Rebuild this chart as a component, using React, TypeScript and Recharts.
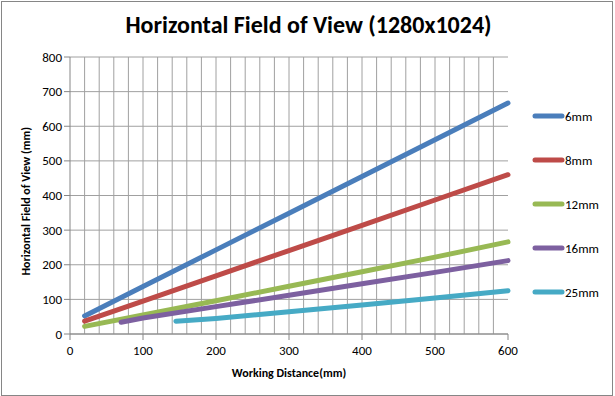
import { CartesianGrid, Line, LineChart, ReferenceLine, XAxis, YAxis } from "recharts"

// working distance (mm) -> horizontal field of view (mm)
const lens6mm = [
    { x: 20, fov: 52 },
    { x: 100, fov: 137 },
    { x: 200, fov: 243 },
    { x: 300, fov: 349 },
    { x: 400, fov: 455 },
    { x: 500, fov: 561 },
    { x: 600, fov: 667 },
]
const lens8mm = [
    { x: 20, fov: 37 },
    { x: 100, fov: 95 },
    { x: 200, fov: 168 },
    { x: 300, fov: 241 },
    { x: 400, fov: 314 },
    { x: 500, fov: 387 },
    { x: 600, fov: 460 },
]
const lens12mm = [
    { x: 20, fov: 22 },
    { x: 100, fov: 55 },
    { x: 200, fov: 96 },
    { x: 300, fov: 138 },
    { x: 400, fov: 180 },
    { x: 500, fov: 222 },
    { x: 600, fov: 266 },
]
const lens16mm = [
    { x: 70, fov: 34 },
    { x: 100, fov: 46 },
    { x: 200, fov: 79 },
    { x: 300, fov: 112 },
    { x: 400, fov: 145 },
    { x: 500, fov: 178 },
    { x: 600, fov: 212 },
]
const lens25mm = [
    { x: 145, fov: 37 },
    { x: 200, fov: 45 },
    { x: 300, fov: 64 },
    { x: 400, fov: 84 },
    { x: 500, fov: 104 },
    { x: 600, fov: 125 },
]

const series = [
    { name: "6mm", data: lens6mm, color: "#4A7EBB" },
    { name: "8mm", data: lens8mm, color: "#BE4B48" },
    { name: "12mm", data: lens12mm, color: "#98B954" },
    { name: "16mm", data: lens16mm, color: "#7D60A0" },
    { name: "25mm", data: lens25mm, color: "#46AAC5" },
]

const xTicks = [0, 100, 200, 300, 400, 500, 600]
const yTicks = [0, 100, 200, 300, 400, 500, 600, 700, 800]
const minorX = Array.from({ length: 29 }, (_, i) => (i + 1) * 20)

const font = "Calibri, Carlito, 'Liberation Sans', Arial, sans-serif"

function LegendBox() {
    return (
        <div style={{ position: "absolute", left: 531, top: 94, fontFamily: font, fontSize: 13, color: "#000" }}>
            {series.map((s) => (
                <div key={s.name} style={{ height: 44, display: "flex", alignItems: "center" }}>
                    <svg width={34} height={8}>
                        <line x1={4} y1={4} x2={31} y2={4} stroke={s.color} strokeWidth={5} strokeLinecap="round" />
                    </svg>
                    <span>{s.name}</span>
                </div>
            ))}
        </div>
    )
}

export default function App() {
    return (
        <div style={{ position: "relative", width: 615, height: 396, background: "#fff" }}>
            <style>{`body{margin:0}`}</style>
            <div style={{ position: "absolute", left: 1, top: 1, width: 612, height: 395, boxSizing: "border-box", border: "1px solid #868686" }} />
            <div style={{ position: "absolute", left: 0, top: 10, width: 617, textAlign: "center", fontFamily: font, fontWeight: "bold", fontSize: 24, color: "#000" }}>
                Horizontal Field of View (1280x1024)
            </div>
            <div style={{ position: "absolute", left: 0, top: 0 }}>
                <LineChart width={615} height={396} margin={{ top: 57, right: 107, bottom: 32, left: 30 }}>
                    <CartesianGrid vertical={false} stroke="#a0a0a0" />
                    {minorX.map((v) => (
                        <ReferenceLine key={v} x={v} stroke="#a0a0a0" />
                    ))}
                    <XAxis
                        type="number"
                        dataKey="x"
                        domain={[0, 600]}
                        ticks={xTicks}
                        height={30}
                        stroke="#868686"
                        tickSize={6}
                        tick={{ fill: "#000", fontSize: 13, fontFamily: font, dy: 4 }}
                        label={{ value: "Working Distance(mm)", position: "insideBottom", offset: -13, fill: "#000", fontSize: 12, fontWeight: "bold", fontFamily: font }}
                    />
                    <YAxis
                        type="number"
                        domain={[0, 800]}
                        ticks={yTicks}
                        width={40}
                        stroke="#868686"
                        tickSize={6}
                        tick={{ fill: "#000", fontSize: 13, fontFamily: font }}
                        label={{ value: "Horizontal Field of View (mm)", angle: -90, position: "insideLeft", offset: -4, dy: 80, fill: "#000", fontSize: 12, fontWeight: "bold", fontFamily: font }}
                    />
                    {series.map((s) => (
                        <Line
                            key={s.name}
                            data={s.data}
                            dataKey="fov"
                            name={s.name}
                            stroke={s.color}
                            strokeWidth={5}
                            strokeLinecap="round"
                            dot={false}
                            isAnimationActive={false}
                        />
                    ))}
                </LineChart>
            </div>
            <LegendBox />
        </div>
    )
}
